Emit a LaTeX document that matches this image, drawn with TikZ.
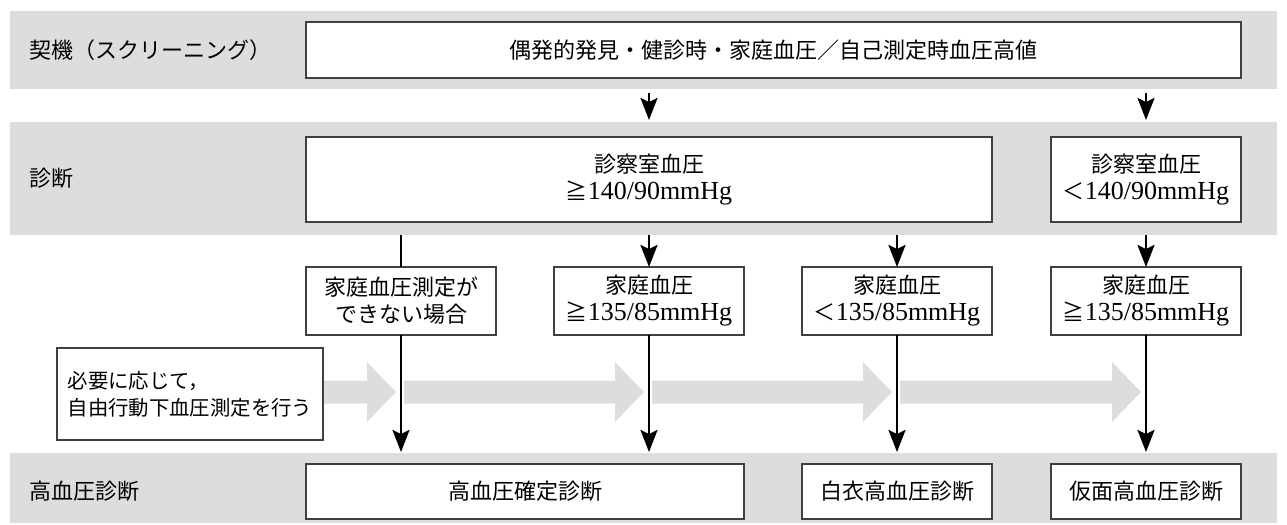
\documentclass[tikz,border=0pt]{standalone}
\usepackage{fontspec}
\setmainfont{Liberation Serif}
\newfontfamily\cjk{Noto Sans CJK JP}
\usetikzlibrary{arrows.meta}
\definecolor{bandgray}{RGB}{220,221,221}
\newcommand\jp[1]{{\cjk\fontsize{11}{13.5}\selectfont #1}}
\newcommand\jpsmall[1]{{\cjk\fontsize{10.2}{13.5}\selectfont #1}}
\begin{document}
\begin{tikzpicture}[x=0.5pt,y=-0.5pt,
  txt/.style={font=\fontsize{13}{13.5}\selectfont},
  band/.style={fill=bandgray,draw=none,inner sep=0pt,outer sep=0pt,minimum width=633.5pt},
  box/.style={txt,draw=black!75,line width=0.7pt,fill=white,inner sep=0pt,outer sep=0pt,align=center},
  colbox/.style={box,minimum width=95pt},
  lbl/.style={txt,anchor=west,inner sep=0pt},
  garrow/.style={fill=bandgray,draw=none},
  conn/.style={line width=1.2pt,black},
  arr/.style={conn,-{Stealth[length=11pt,width=8.5pt,inset=2pt]}}]
\useasboundingbox (0,0) rectangle (1287,525);
% bands
\node[band,minimum height=39pt] (band1) at (643.5,50) {};
\node[band,minimum height=56.5pt] (band2) at (643.5,178.5) {};
\node[band,minimum height=35pt] (band3) at (643.5,488) {};
% row labels
\node[lbl] (l1) at (29,50) {\jp{契機（スクリーニング）}};
\node[lbl] (l2) at (29,178) {\jp{診断}};
\node[lbl] (l3) at (29,491) {\jp{高血圧診断}};
% grey wide arrows
\foreach \a/\b in {200/396,404/644,652/892,900/1141}{
  \fill[garrow] (\a,380.5) -- (\b-29,380.5) -- (\b-29,362) -- (\b,392)
     -- (\b-29,422) -- (\b-29,403.5) -- (\a,403.5) -- cycle;
}
% boxes
\node[box,minimum width=467.5pt,minimum height=28pt] (top) at (773.5,50)
  {\jp{偶発的発見・健診時・家庭血圧／自己測定時血圧高値}};
\node[box,minimum width=343pt,minimum height=42.5pt] (diagL) at (649,179.5)
  {\jp{診察室血圧}\\\jp{≧}140/90mmHg};
\node[colbox,minimum height=42.5pt] (diagR) at (1146,179.5)
  {\jp{診察室血圧}\\\jp{＜}140/90mmHg};
\node[colbox,minimum height=34pt] (cA) at (401,301)
  {\jp{家庭血圧測定が}\\\jp{できない場合}};
\node[colbox,minimum height=34pt] (cB) at (649,301)
  {\jp{家庭血圧}\\\jp{≧}135/85mmHg};
\node[colbox,minimum height=34pt] (cC) at (897,301)
  {\jp{家庭血圧}\\\jp{＜}135/85mmHg};
\node[colbox,minimum height=34pt] (cD) at (1146,301)
  {\jp{家庭血圧}\\\jp{≧}135/85mmHg};
\node[box,align=left,minimum width=133pt,minimum height=46pt] (note) at (190,394)
  {\jpsmall{必要に応じて，}\\\jpsmall{自由行動下血圧測定を行う}};
\node[box,minimum width=219pt,minimum height=27.5pt] (r1) at (525,491.5)
  {\jp{高血圧確定診断}};
\node[colbox,minimum height=27.5pt] (r2) at (897,491.5)
  {\jp{白衣高血圧診断}};
\node[colbox,minimum height=27.5pt] (r3) at (1146,491.5)
  {\jp{仮面高血圧診断}};
% connectors
\draw[arr,shorten <=2pt,shorten >=1pt] (band1.south -| cB.center) -- (band2.north -| cB.center);
\draw[arr,shorten <=2pt,shorten >=1pt] (band1.south -| cD.center) -- (band2.north -| cD.center);
\draw[conn] (band2.south -| cA.center) -- (cA.north);
\draw[arr] (band2.south -| cB.center) -- (cB.north);
\draw[arr] (band2.south -| cC.center) -- (cC.north);
\draw[arr] (band2.south -| cD.center) -- (cD.north);
\draw[arr,shorten >=0.5pt] (cA.south) -- (band3.north -| cA.center);
\draw[arr,shorten >=0.5pt] (cB.south) -- (band3.north -| cB.center);
\draw[arr,shorten >=0.5pt] (cC.south) -- (band3.north -| cC.center);
\draw[arr,shorten >=0.5pt] (cD.south) -- (band3.north -| cD.center);
\end{tikzpicture}
\end{document}
